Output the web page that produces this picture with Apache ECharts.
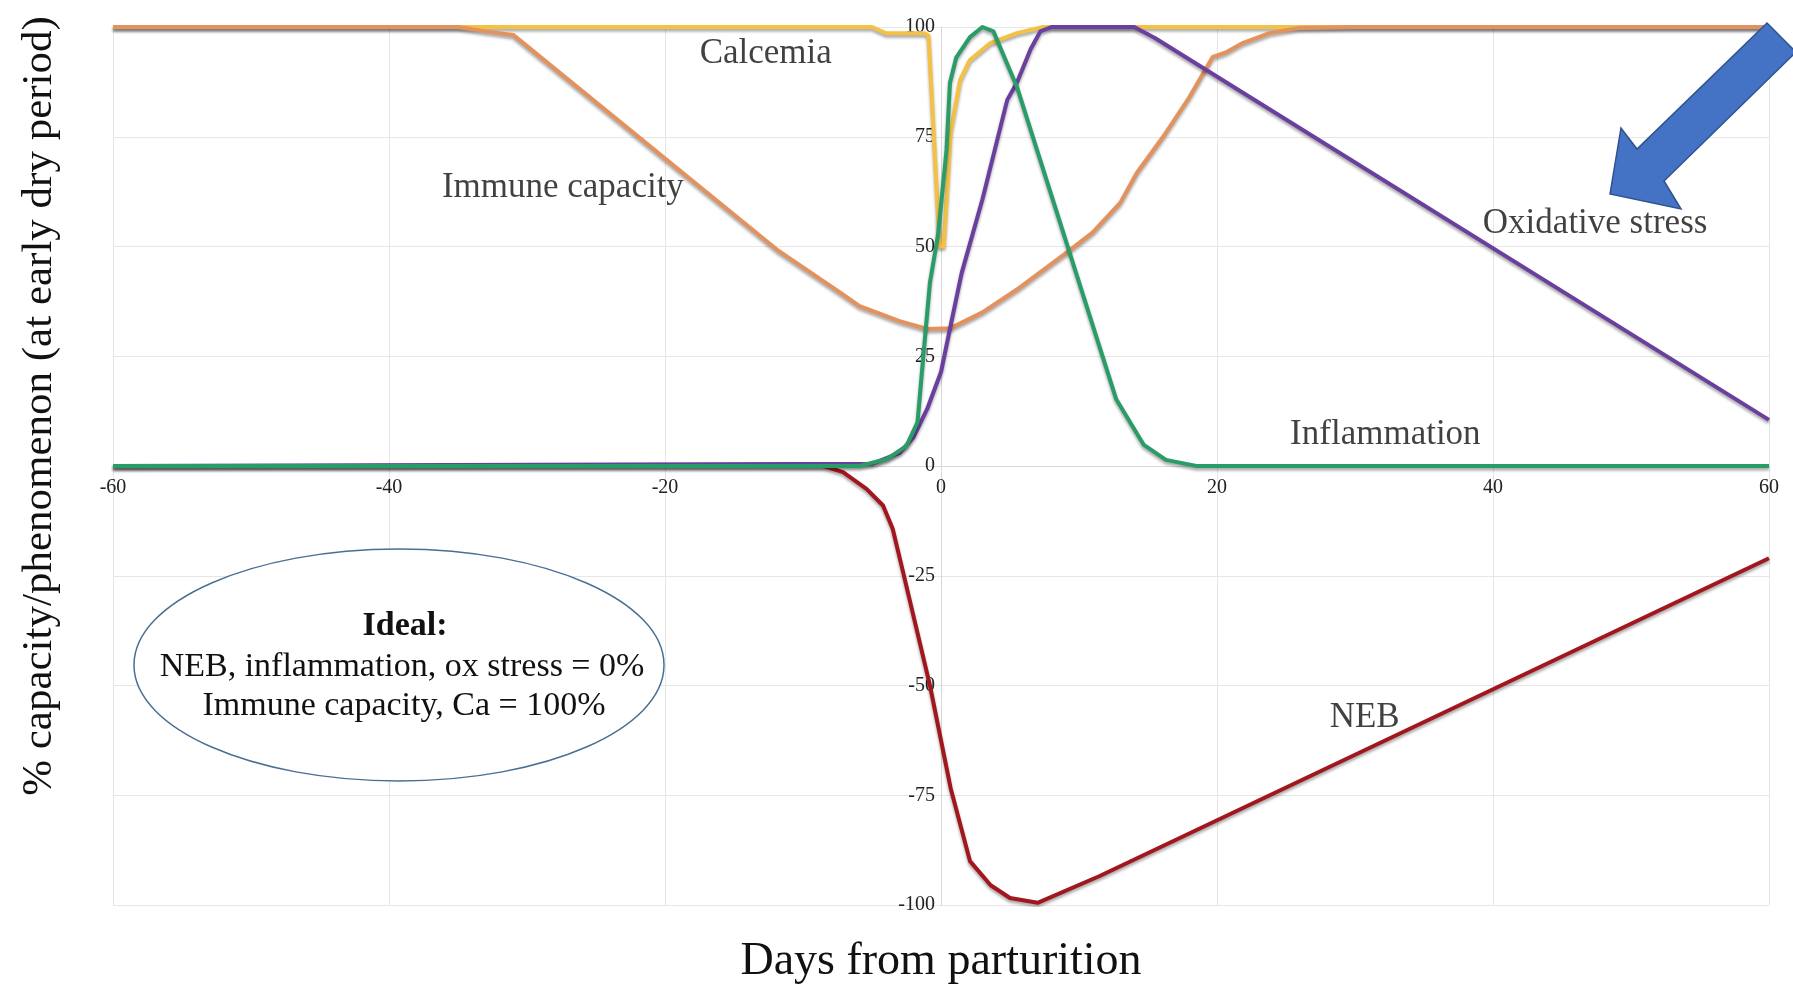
<!DOCTYPE html>
<html>
<head>
<meta charset="utf-8">
<title>Periparturient phenomena</title>
<script src="https://cdn.jsdelivr.net/npm/echarts@6/dist/echarts.min.js"></script>
<style>
  html, body { margin: 0; padding: 0; background: #fff; }
  #chart { width: 1793px; height: 988px; }
</style>
</head>
<body>
<div id="chart"></div>
<script>
// values: [day from parturition, % capacity/phenomenon]
const calcemia = [[-60,100],[-5,100],[-4,98.6],[-1.2,98.6],[-0.9,98],[-0.1,50],[0.2,50],[0.7,76],[1.4,88],[2.1,92.5],[3.6,96.4],[5.5,98.6],[7.4,100],[60,100]]
const immune = [[-60,100],[-35,100],[-33,99],[-31,98.2],[-11.9,49.3],[-7.3,39.5],[-5.9,36.4],[-3,33],[-1,31.2],[0.7,31.4],[3,35],[5.5,40.2],[9.1,48.6],[11,53.2],[13,60],[14.2,66.8],[16.1,75],[18,84],[19.7,93.2],[20.7,94.3],[21.9,96.4],[23.8,98.6],[26,99.8],[30,100],[60,100]]
const oxStress = [[-60,0],[-5,0.5],[-3,3],[-2,6.5],[-1,13],[0,21.4],[0.7,32],[1.5,44],[3,60.7],[4.8,83.4],[5.5,87.3],[6.5,95],[7.2,99],[8,100],[14,100],[15.5,97.5],[60,10.5]]
const neb = [[-60,0],[-8.5,0],[-7.1,-1.4],[-5.4,-5.2],[-4.2,-9],[-3.5,-14.3],[-2.7,-24.8],[-0.8,-50],[0.7,-73.4],[2.1,-90],[3.6,-95.5],[5,-98.4],[7,-99.5],[11.5,-93.4],[60,-21]]
const inflammation = [[-60,0],[-5.9,0],[-3.9,1.6],[-2.5,4.6],[-1.7,10],[-1.3,24.3],[-0.8,41.8],[-0.2,53],[0.4,72],[0.65,87.3],[1.1,93],[2.1,97.7],[3,100],[3.8,99],[5.5,86.4],[12.7,15.2],[14.7,4.8],[16.3,1.4],[18.5,0],[60,0]]

const seriesNames = ['Calcemia', 'Immune capacity', 'Oxidative stress', 'NEB', 'Inflammation']
const seriesColors = ['#f4c145', '#e4925d', '#6a3f9e', '#a2161e', '#2a9c68']

// where the curve names sit, in data units
const curveLabels = [
  { name: 'Calcemia', value: [-12.7, 93.9] },
  { name: 'Immune capacity', value: [-27.4, 63.4] },
  { name: 'Oxidative stress', value: [47.4, 55.2] },
  { name: 'Inflammation', value: [32.2, 7.0] },
  { name: 'NEB', value: [30.7, -57.3] }
]

const serif = 'Liberation Serif, Times New Roman, serif'

// grid box in px, axes are pushed in so they cross at (0, 0)
const gridLeft = 113, gridRight = 24, gridTop = 27, gridBottom = 83
const plotW = 1793 - gridLeft - gridRight
const plotH = 988 - gridTop - gridBottom

let chart = echarts.init(document.getElementById('chart'))

let makeLine = (name, data, color) => ({
  name: name,
  type: 'line',
  data: data,
  showSymbol: false,
  smooth: false,
  lineStyle: {
    color: color,
    width: 4,
    join: 'round',
    shadowColor: 'rgba(0,0,0,0.35)',
    shadowBlur: 3,
    shadowOffsetY: 2.5
  },
  itemStyle: { color: color }
})

const lineData = [calcemia, immune, oxStress, neb, inflammation]
const series = lineData.map((d, i) => makeLine(seriesNames[i], d, seriesColors[i]))

series.push({
  type: 'scatter',
  data: curveLabels,
  symbolSize: 0,
  silent: true,
  z: 5,
  label: {
    show: true,
    position: 'inside',
    formatter: p => p.name,
    fontFamily: serif,
    fontSize: 35,
    color: '#111'
  }
})

const option = {
  animation: false,
  backgroundColor: '#fff',
  grid: { left: gridLeft, right: gridRight, top: gridTop, bottom: gridBottom },
  xAxis: {
    type: 'value',
    min: -60,
    max: 60,
    interval: 20,
    offset: -plotH / 2,
    axisLine: { onZero: false, lineStyle: { color: '#d8d8d8', width: 1 } },
    axisTick: { show: false },
    axisLabel: { fontFamily: serif, fontSize: 20, color: '#222', margin: 12 },
    splitLine: { show: true, lineStyle: { color: '#e6e6e6', width: 1 } }
  },
  yAxis: {
    type: 'value',
    min: -100,
    max: 100,
    interval: 25,
    offset: -plotW / 2,
    axisLine: { show: true, onZero: false, lineStyle: { color: '#d8d8d8', width: 1 } },
    axisTick: { show: false },
    axisLabel: { fontFamily: serif, fontSize: 20, color: '#222', margin: 6 },
    splitLine: { show: true, lineStyle: { color: '#e6e6e6', width: 1 } }
  },
  series: series,
  graphic: [
    {
      type: 'text',
      x: 941, y: 962,
      style: {
        text: 'Days from parturition',
        font: '46px ' + serif,
        fill: '#111',
        align: 'center',
        verticalAlign: 'middle'
      }
    },
    {
      type: 'text',
      x: 40, y: 406,
      rotation: Math.PI / 2,
      style: {
        text: '% capacity/phenomenon (at early dry period)',
        font: '43px ' + serif,
        fill: '#111',
        align: 'center',
        verticalAlign: 'middle'
      }
    },
    // "Ideal" callout
    {
      type: 'ellipse',
      z: 10,
      shape: { cx: 399, cy: 665, rx: 265, ry: 116 },
      style: { fill: '#fff', stroke: '#4a6f92', lineWidth: 1.5 }
    },
    {
      type: 'text',
      z: 11,
      x: 405, y: 626,
      style: { text: 'Ideal:', font: 'bold 34px ' + serif, fill: '#111', align: 'center', verticalAlign: 'middle' }
    },
    {
      type: 'text',
      z: 11,
      x: 402, y: 667,
      style: { text: 'NEB, inflammation, ox stress = 0%', font: '34px ' + serif, fill: '#111', align: 'center', verticalAlign: 'middle' }
    },
    {
      type: 'text',
      z: 11,
      x: 404, y: 706,
      style: { text: 'Immune capacity, Ca = 100%', font: '34px ' + serif, fill: '#111', align: 'center', verticalAlign: 'middle' }
    },
    // blue arrow pointing at the oxidative stress curve
    {
      type: 'polygon',
      z: 10,
      shape: {
        points: [[1610, 194], [1621, 128], [1637, 149], [1767, 23], [1796, 52], [1664, 181], [1681, 209]]
      },
      style: { fill: '#4472c4', stroke: '#2f528f', lineWidth: 1.5 }
    }
  ]
}

// 绘制图表
chart.setOption(option)
window.onresize = () => {
  chart.resize()
}
</script>
</body>
</html>
